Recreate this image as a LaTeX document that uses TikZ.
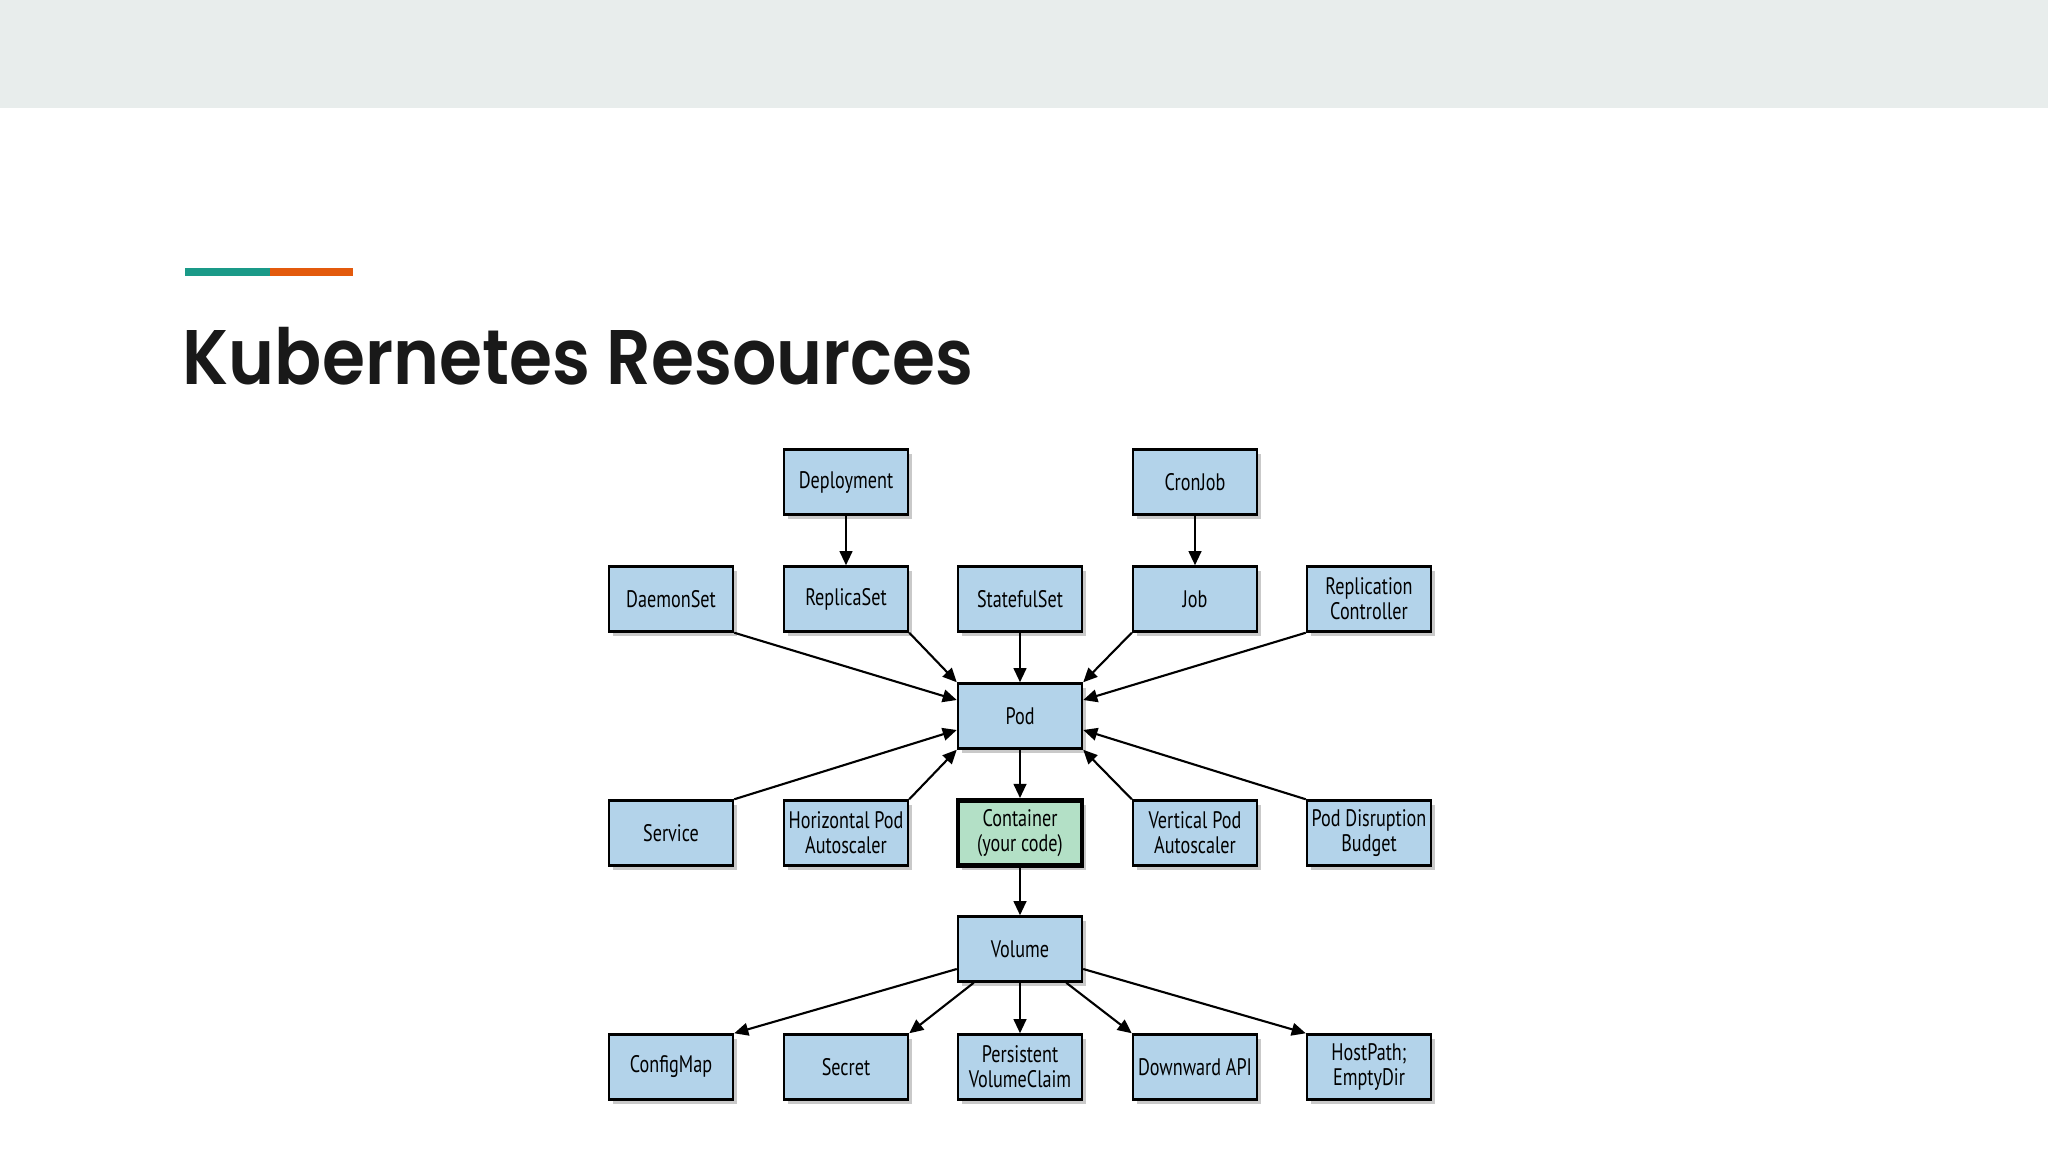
\documentclass[tikz,border=0pt]{standalone}
\usepackage{fontspec}
\setmainfont{Liberation Sans}
\newfontfamily\titlefont{Poppins}[UprightFont=* SemiBold,FakeStretch=0.9]
\newfontfamily\boxfont{PT Sans}[FakeStretch=0.76]
\usetikzlibrary{arrows.meta,shadows,calc}
\definecolor{hdr}{HTML}{E8EDEC}
\definecolor{boxblue}{HTML}{B3D3EA}
\definecolor{boxgreen}{HTML}{B3E0C6}
\definecolor{teal}{HTML}{1A9A88}
\definecolor{orng}{HTML}{E35A0D}
\tikzset{
  res/.style={draw=black,line width=0.7pt,fill=boxblue,minimum width=124*0.01cm,minimum height=65*0.01cm,
    align=center,font=\boxfont\fontsize{6.8}{7.2}\selectfont,inner sep=0pt,
    drop shadow={shadow xshift=1.2pt,shadow yshift=-1.2pt,opacity=0.35,fill=black!60}},
  cont/.style={res,fill=boxgreen,line width=1.4pt},
  arr/.style={-{Triangle[length=4pt,width=3.6pt]},line width=0.6pt}
}
\begin{document}
\begin{tikzpicture}[x=0.01cm,y=-0.01cm]
\useasboundingbox (0,0) rectangle (2048,1152);
\fill[white] (0,0) rectangle (2048,1152);
\fill[hdr] (0,0) rectangle (2048,108);
\fill[teal] (185,268) rectangle (270,276);
\fill[orng] (270,268) rectangle (353,276);
\node[anchor=base west,inner sep=0pt,font=\titlefont\fontsize{22}{26}\selectfont,text=black!90] (title) at (182,385) {Kubernetes Resources};

\node[res] (dep) at (846,482) {Deployment};
\node[res] (cron) at (1195,482) {CronJob};
\node[res] (ds) at (671,599) {DaemonSet};
\node[res] (rs) at (846,599) {ReplicaSet};
\node[res] (ss) at (1020,599) {StatefulSet};
\node[res] (job) at (1195,599) {Job};
\node[res] (rc) at (1369,599) {Replication\\Controller};
\node[res] (pod) at (1020,716) {Pod};
\node[res] (svc) at (671,833) {Service};
\node[res] (hpa) at (846,833) {Horizontal Pod\\Autoscaler};
\node[cont] (con) at (1020,833) {Container\\(your code)};
\node[res] (vpa) at (1195,833) {Vertical Pod\\Autoscaler};
\node[res] (pdb) at (1369,833) {Pod Disruption\\Budget};
\node[res] (vol) at (1020,949) {Volume};
\node[res] (cm) at (671,1067) {ConfigMap};
\node[res] (sec) at (846,1067) {Secret};
\node[res] (pvc) at (1020,1067) {Persistent\\VolumeClaim};
\node[res] (dapi) at (1195,1067) {Downward API};
\node[res] (hp) at (1369,1067) {HostPath;\\EmptyDir};

\draw[arr] (dep) -- (rs);
\draw[arr] (cron) -- (job);
\draw[arr] (ds.south east) -- ($(pod.west)+(0,-16)$);
\draw[arr] (rs.south east) -- (pod.north west);
\draw[arr] (ss) -- (pod);
\draw[arr] (job.south west) -- (pod.north east);
\draw[arr] (rc.south west) -- ($(pod.east)+(0,-16)$);
\draw[arr] (svc.north east) -- ($(pod.west)+(0,14)$);
\draw[arr] (hpa.north east) -- (pod.south west);
\draw[arr] (vpa.north west) -- (pod.south east);
\draw[arr] (pdb.north west) -- ($(pod.east)+(0,14)$);
\draw[arr] (pod) -- (con);
\draw[arr] (con) -- (vol);
\draw[arr] ($(vol.west)+(0,20)$) -- (cm.north east);
\draw[arr] ($(vol.south west)+(17,0)$) -- (sec.north east);
\draw[arr] (vol) -- (pvc);
\draw[arr] ($(vol.south east)+(-17,0)$) -- (dapi.north west);
\draw[arr] ($(vol.east)+(0,20)$) -- (hp.north west);
\end{tikzpicture}
\end{document}
